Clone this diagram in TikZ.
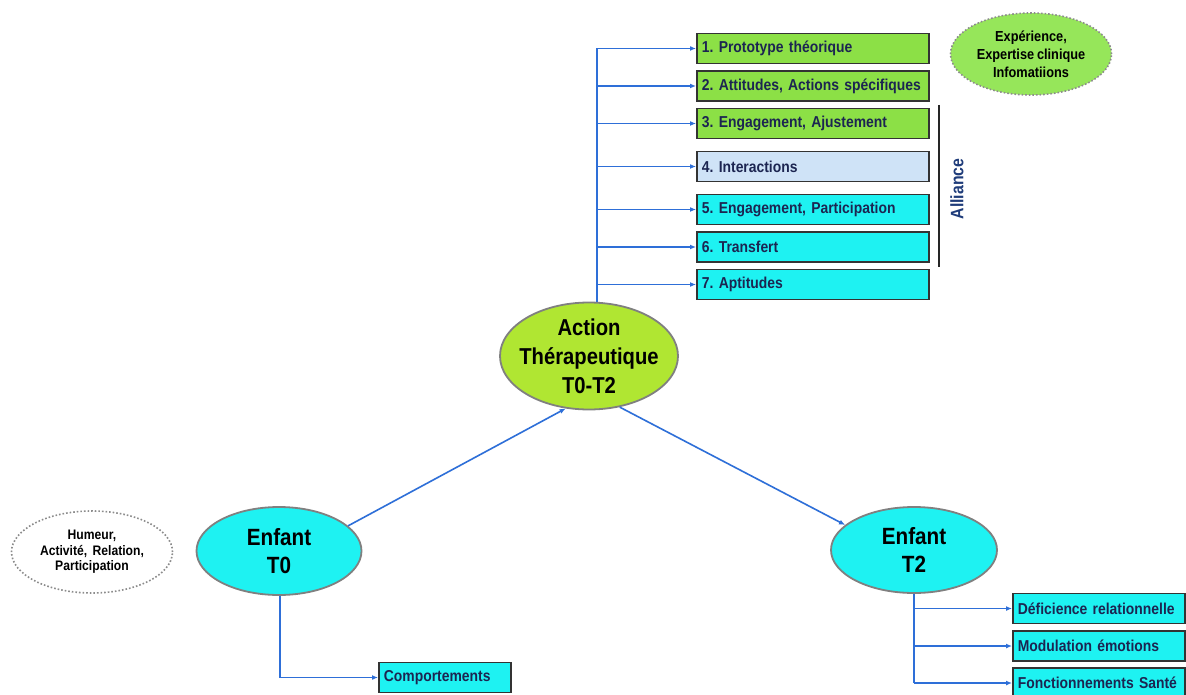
\documentclass[tikz,border=0pt]{standalone}
\usepackage{fontspec}
\setmainfont[FakeStretch=0.88,WordSpace=0.8]{Liberation Sans}
\usetikzlibrary{shapes.geometric,arrows.meta}
\definecolor{boxgreen}{HTML}{8CE046}
\definecolor{actgreen}{HTML}{B0E632}
\definecolor{expgreen}{HTML}{96E65A}
\definecolor{cyanfill}{HTML}{1EF2F2}
\definecolor{paleblue}{HTML}{CFE3F7}
\definecolor{arrowblue}{HTML}{2E6FD8}
\definecolor{navytext}{HTML}{1C2551}
\definecolor{alliancetext}{HTML}{1F3C7A}
\frenchspacing
\tikzset{
  itembox/.style={draw=black!80, line width=1.8pt, inner xsep=5pt, inner ysep=0pt,
    minimum height=30pt, text width=#1, align=left, anchor=west,
    font=\fontsize{15.8}{17}\selectfont\bfseries, text=navytext},
  mainell/.style={ellipse, draw=black!50, line width=1.8pt, inner sep=0pt,
    align=center, font=\fontsize{23.5}{28}\selectfont\bfseries},
  noteell/.style={ellipse, draw=black!45, line width=1.6pt, dotted, inner sep=0pt,
    align=center, font=\fontsize{14.5}{18}\selectfont\bfseries},
  conn/.style={draw=arrowblue, line width=1.6pt, -{Latex[length=6pt,width=5pt]}},
  trunk/.style={draw=arrowblue, line width=1.6pt}
}
\begin{document}
\begin{tikzpicture}[x=1pt,y=-1pt]
\useasboundingbox[fill=white] (0,0) rectangle (1186,695);

% top item boxes
\node[itembox=222pt, fill=boxgreen] (b1) at (696,48.5) {1. Prototype théorique};
\node[itembox=222pt, fill=boxgreen] (b2) at (696,86) {2. Attitudes, Actions spécifiques};
\node[itembox=222pt, fill=boxgreen] (b3) at (696,123.5) {3. Engagement, Ajustement};
\node[itembox=222pt, fill=paleblue] (b4) at (696,166.5) {4. Interactions};
\node[itembox=222pt, fill=cyanfill] (b5) at (696,209.5) {5. Engagement, Participation};
\node[itembox=222pt, fill=cyanfill] (b6) at (696,247) {6. Transfert};
\node[itembox=222pt, fill=cyanfill] (b7) at (696,284.5) {7. Aptitudes};

% Alliance bracket
\coordinate (al1) at (939,105);
\coordinate (al2) at (939,267);
\draw[line width=1.8pt, black!85] (al1) -- (al2);
\node[rotate=90, font=\fontsize{18}{20}\selectfont\bfseries, text=alliancetext] (alliance) at (957,189) {Alliance};

% note ellipses
\node[noteell, fill=expgreen, minimum width=161pt, minimum height=82pt] (exp) at (1031,54)
  {Expérience,\\Expertise clinique\\Infomatiions};
\node[noteell, fill=white, minimum width=161pt, minimum height=82pt, font=\fontsize{13.8}{15.5}\selectfont\bfseries] (hum) at (92,552)
  {Humeur,\\Activité,\ \ Relation,\\Participation};

% main ellipses
\node[mainell, fill=actgreen, minimum width=178pt, minimum height=107pt, inner xsep=-8pt, inner ysep=-4pt,
  font=\fontsize{23}{29}\selectfont\bfseries] (act) at (589,356)
  {Action\\Thérapeutique\\T0-T2};
\node[mainell, fill=cyanfill, minimum width=165pt, minimum height=88pt] (t0) at (279,551)
  {Enfant\\T0};
\node[mainell, fill=cyanfill, minimum width=166pt, minimum height=86pt] (t2) at (914,550)
  {Enfant\\T2};

% bottom boxes
\node[itembox=122pt, fill=cyanfill] (comp) at (378,677.5) {Comportements};
\node[itembox=162pt, fill=cyanfill] (d1) at (1012,608.5) {Déficience relationnelle};
\node[itembox=162pt, fill=cyanfill] (d2) at (1012,646) {Modulation émotions};
\node[itembox=162pt, fill=cyanfill] (d3) at (1012,683) {Fonctionnements Santé};

% trunk from action ellipse to top boxes
\coordinate (tk) at (597,48.5);
\draw[trunk] (act.north -| tk) -- (tk);
\foreach \b in {b1,b2,b3,b4,b5,b6,b7}{
  \draw[conn] (tk |- \b.west) -- (\b.west);
}

% main connectors
\draw[conn] (t0.20.6) -- (act.246.4);
\draw[conn] (act.301) -- (t2.160.8);

% T0 to Comportements
\draw[conn] (t0.south -| 280,0) |- (comp.west);

% T2 to bottom right boxes
\coordinate (tk2) at (914,683);
\draw[trunk] (t2.south) -- (tk2);
\foreach \b in {d1,d2,d3}{
  \draw[conn] (tk2 |- \b.west) -- (\b.west);
}
\end{tikzpicture}
\end{document}
